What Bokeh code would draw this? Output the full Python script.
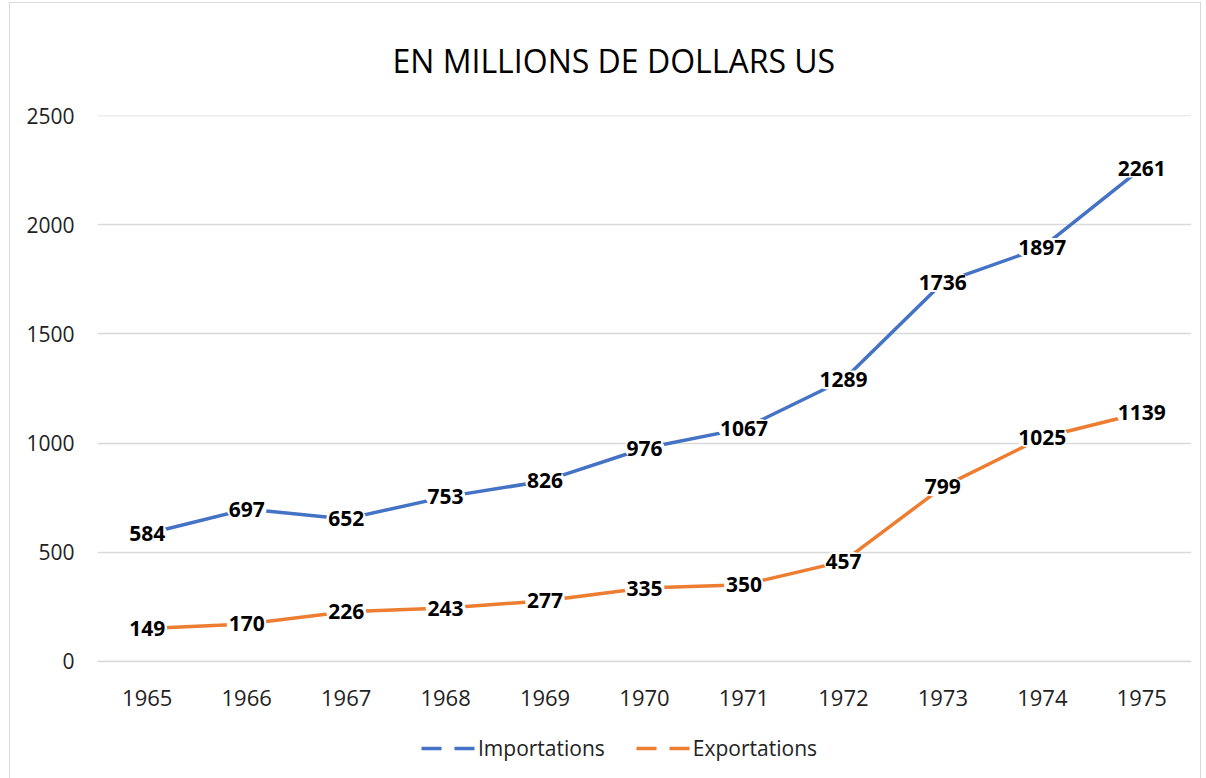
from bokeh.plotting import figure
from bokeh.layouts import column
from bokeh.models import ColumnDataSource, Legend, LegendItem, FixedTicker, Range1d
from bokeh.core.properties import value
from bokeh.embed import file_html
from bokeh.resources import INLINE

years = ["1965", "1966", "1967", "1968", "1969", "1970", "1971", "1972", "1973", "1974", "1975"]
importations = [584, 697, 652, 753, 826, 976, 1067, 1289, 1736, 1897, 2261]
exportations = [149, 170, 226, 243, 277, 335, 350, 457, 799, 1025, 1139]
title_text = "EN MILLIONS DE DOLLARS US"
series_names = ["Importations", "Exportations"]
y_ticks = [0, 500, 1000, 1500, 2000, 2500]

FONT = "Open Sans"
BLUE = "#4472C4"
ORANGE = "#ED7D31"
GRID = "#D9D9D9"
BORDER = "1px solid #D9D9D9"

# ---- main chart ----
p = figure(x_range=years, y_range=Range1d(-2, 2502), width=1192, height=726,
           output_backend="svg", toolbar_location=None,
           min_border_left=87, min_border_right=11, min_border_top=112, min_border_bottom=68)
p.margin = (2, 0, 0, 9)
p.styles = {"border-top": BORDER, "border-left": BORDER, "border-right": BORDER,
            "box-sizing": "border-box"}
p.outline_line_color = None
p.background_fill_color = "white"
p.border_fill_color = "white"

p.title.text = title_text
p.title.align = "left"
p.title.text_font = FONT
p.title.text_font_size = "32px"
p.title.text_font_style = "normal"
p.title.text_color = "black"
p.title.standoff = 67
p.title.offset = 295

src_i = ColumnDataSource(dict(x=years, y=importations, t=[str(v) for v in importations]))
src_e = ColumnDataSource(dict(x=years, y=exportations, t=[str(v) for v in exportations]))

p.ygrid.grid_line_color = GRID
p.ygrid.grid_line_width = 1.5
p.xgrid.grid_line_color = None

p.line("x", "y", source=src_i, line_color=BLUE, line_width=3.5)
p.line("x", "y", source=src_e, line_color=ORANGE, line_width=3.5)

for src in (src_i, src_e):
    p.text("x", "y", text="t", source=src, text_font=value(FONT), text_font_style="bold",
           text_font_size="21px", text_color="black", text_align="center",
           text_baseline="middle", background_fill_color="white", padding=2,
           border_radius=10)

p.yaxis.ticker = FixedTicker(ticks=y_ticks)
p.yaxis.axis_line_color = None
p.yaxis.major_tick_line_color = None
p.yaxis.minor_tick_line_color = None
p.yaxis.major_label_text_font = FONT
p.yaxis.major_label_text_font_size = "21px"
p.yaxis.major_label_text_color = "#222222"
p.yaxis.major_label_standoff = 17

p.xaxis.axis_line_color = GRID
p.xaxis.axis_line_width = 1.5
p.xaxis.major_tick_line_color = None
p.xaxis.minor_tick_line_color = None
p.xaxis.major_label_text_font = FONT
p.xaxis.major_label_text_font_size = "22px"
p.xaxis.major_label_text_color = "#222222"
p.xaxis.major_label_standoff = 22

# ---- legend strip below the chart ----
p2 = figure(width=1192, height=50, x_range=Range1d(0, 1), y_range=Range1d(0, 1),
            output_backend="svg", toolbar_location=None, x_axis_type=None, y_axis_type=None,
            min_border_left=0, min_border_right=0, min_border_top=0, min_border_bottom=0)
p2.margin = (0, 0, 0, 9)
p2.styles = {"border-left": BORDER, "border-right": BORDER, "box-sizing": "border-box"}
p2.outline_line_color = None
p2.background_fill_color = "white"
p2.border_fill_color = "white"

dummy = ColumnDataSource(dict(x=[0.0], y=[float("nan")]))
leg_i = p2.line("x", "y", source=dummy, line_color=BLUE, line_width=3.5, line_dash="20 13")
leg_e = p2.line("x", "y", source=dummy, line_color=ORANGE, line_width=3.5, line_dash="20 13")

legend = Legend(items=[LegendItem(label=series_names[0], renderers=[leg_i]),
                       LegendItem(label=series_names[1], renderers=[leg_e])],
                orientation="horizontal", location=(324, 16),
                label_text_font=FONT, label_text_font_size="21px", label_text_color="#222222",
                border_line_color=None, background_fill_alpha=0,
                glyph_width=54, label_standoff=3, spacing=31, padding=4, margin=0)
p2.add_layout(legend)

layout = column(p, p2, spacing=0)
open("out.html", "w").write(file_html(layout, INLINE))
